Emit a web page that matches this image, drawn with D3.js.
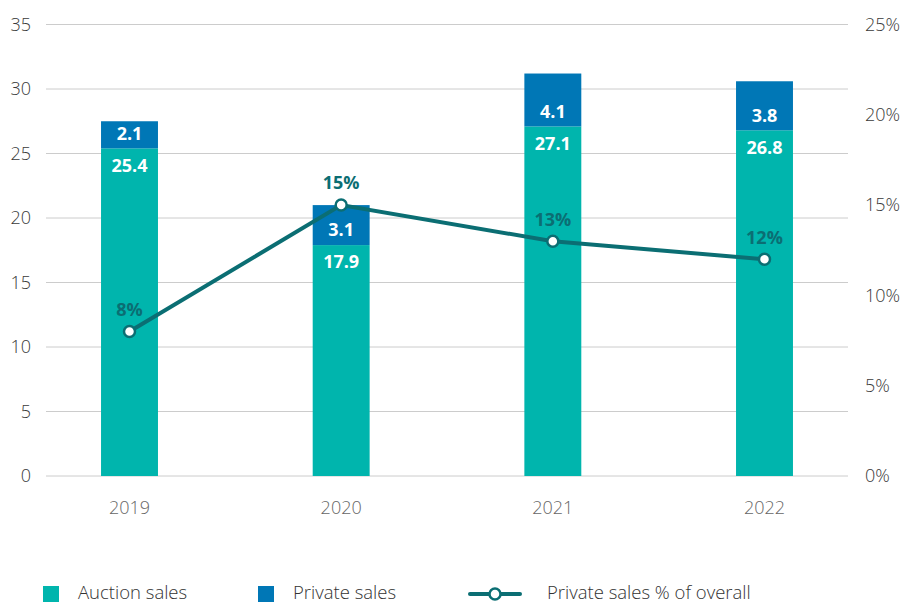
<!DOCTYPE html>
<html lang="en">
<head>
    <meta charset="UTF-8">
    <title>Auction vs private sales</title>
    <script src="https://d3js.org/d3.v7.min.js"></script>
    <style>
        body { margin: 0; background: #fff; font-family: "Open Sans", "Noto Sans", Arial, sans-serif; }
        .tick-label { font-size: 18px; fill: #3a3a3a; font-weight: 300; }
        .year-label { font-size: 18px; fill: #666; font-weight: 300; }
        .bar-label { font-size: 18px; fill: #fff; font-weight: 700; }
        .pct-label { font-size: 18px; fill: #0b6e73; font-weight: 700; }
        .legend-text { font-size: 18.5px; fill: #333; font-weight: 300; }
    </style>
</head>
<body>
    <div id="chart"></div>
    <script>
        const years = ["2019", "2020", "2021", "2022"];
        const auctionSales = [25.4, 17.9, 27.1, 26.8];
        const privateSales = [2.1, 3.1, 4.1, 3.8];
        const privateShare = [8, 15, 13, 12];
        const leftTicks = [0, 5, 10, 15, 20, 25, 30, 35];
        const rightTicks = [0, 5, 10, 15, 20, 25];

        const auctionColor = "#00b5ad";
        const privateColor = "#0077b6";
        const lineColor = "#0b6e73";

        const width = 916, height = 603;
        const plot = {left: 46, right: 848, top: 24.5, bottom: 476};

        const svg = d3.select("#chart")
            .append("svg")
            .attr("width", width)
            .attr("height", height);

        const x = d3.scaleBand()
            .domain(years)
            .range([plot.left, plot.right])
            .paddingInner(0.731)
            .paddingOuter(0.26);

        const y = d3.scaleLinear().domain([0, 35]).range([plot.bottom, plot.top]);
        const yPct = d3.scaleLinear().domain([0, 25]).range([plot.bottom, plot.top]);

        // gridlines
        svg.append("g")
            .selectAll("line")
            .data(leftTicks)
            .enter()
            .append("line")
            .attr("x1", plot.left)
            .attr("x2", plot.right)
            .attr("y1", d => y(d))
            .attr("y2", d => y(d))
            .attr("stroke", "#cccccc")
            .attr("stroke-width", 1);

        // left axis
        svg.append("g")
            .selectAll("text")
            .data(leftTicks)
            .enter()
            .append("text")
            .attr("class", "tick-label")
            .attr("x", 31)
            .attr("y", d => y(d))
            .attr("dy", "0.35em")
            .attr("text-anchor", "end")
            .text(d => d);

        // right axis
        svg.append("g")
            .selectAll("text")
            .data(rightTicks)
            .enter()
            .append("text")
            .attr("class", "tick-label")
            .attr("x", 865)
            .attr("y", d => yPct(d))
            .attr("dy", "0.35em")
            .text(d => d + "%");

        // year labels
        svg.append("g")
            .selectAll("text")
            .data(years)
            .enter()
            .append("text")
            .attr("class", "year-label")
            .attr("x", d => x(d) + x.bandwidth() / 2)
            .attr("y", 508)
            .attr("dy", "0.35em")
            .attr("text-anchor", "middle")
            .text(d => d);

        const data = years.map((yr, i) => ({
            year: yr,
            auction: auctionSales[i],
            priv: privateSales[i],
            share: privateShare[i]
        }));

        // stacked bars
        svg.append("g")
            .selectAll("rect")
            .data(data)
            .enter()
            .append("rect")
            .attr("x", d => x(d.year))
            .attr("width", x.bandwidth())
            .attr("y", d => y(d.auction))
            .attr("height", d => y(0) - y(d.auction))
            .attr("fill", auctionColor);

        svg.append("g")
            .selectAll("rect")
            .data(data)
            .enter()
            .append("rect")
            .attr("x", d => x(d.year))
            .attr("width", x.bandwidth())
            .attr("y", d => y(d.auction + d.priv))
            .attr("height", d => y(d.auction) - y(d.auction + d.priv))
            .attr("fill", privateColor);

        // bar labels
        svg.append("g")
            .selectAll("text")
            .data(data)
            .enter()
            .append("text")
            .attr("class", "bar-label")
            .attr("x", d => x(d.year) + x.bandwidth() / 2)
            .attr("y", d => y(d.auction) + 17)
            .attr("dy", "0.35em")
            .attr("text-anchor", "middle")
            .text(d => d.auction.toFixed(1));

        svg.append("g")
            .selectAll("text")
            .data(data)
            .enter()
            .append("text")
            .attr("class", "bar-label")
            .attr("x", d => x(d.year) + x.bandwidth() / 2)
            .attr("y", d => y(d.auction) - 15)
            .attr("dy", "0.35em")
            .attr("text-anchor", "middle")
            .text(d => d.priv.toFixed(1));

        // line
        const line = d3.line()
            .x(d => x(d.year) + x.bandwidth() / 2)
            .y(d => yPct(d.share));

        svg.append("path")
            .datum(data)
            .attr("d", line)
            .attr("fill", "none")
            .attr("stroke", lineColor)
            .attr("stroke-width", 4);

        svg.append("g")
            .selectAll("circle")
            .data(data)
            .enter()
            .append("circle")
            .attr("cx", d => x(d.year) + x.bandwidth() / 2)
            .attr("cy", d => yPct(d.share))
            .attr("r", 5.5)
            .attr("fill", "#fff")
            .attr("stroke", lineColor)
            .attr("stroke-width", 2.5);

        svg.append("g")
            .selectAll("text")
            .data(data)
            .enter()
            .append("text")
            .attr("class", "pct-label")
            .attr("x", d => x(d.year) + x.bandwidth() / 2)
            .attr("y", d => yPct(d.share) - 22)
            .attr("dy", "0.35em")
            .attr("text-anchor", "middle")
            .text(d => d.share + "%");

        // legend
        const legend = svg.append("g");
        const legendY = 593;

        legend.append("rect")
            .attr("x", 43).attr("y", 586)
            .attr("width", 16).attr("height", 16)
            .attr("fill", auctionColor);
        legend.append("text")
            .attr("class", "legend-text")
            .attr("x", 78).attr("y", legendY)
            .attr("dy", "0.35em")
            .text("Auction sales");

        legend.append("rect")
            .attr("x", 258).attr("y", 586)
            .attr("width", 16).attr("height", 16)
            .attr("fill", privateColor);
        legend.append("text")
            .attr("class", "legend-text")
            .attr("x", 293).attr("y", legendY)
            .attr("dy", "0.35em")
            .text("Private sales");

        legend.append("line")
            .attr("x1", 470).attr("x2", 520)
            .attr("y1", 594).attr("y2", 594)
            .attr("stroke", lineColor)
            .attr("stroke-width", 4)
            .attr("stroke-linecap", "round");
        legend.append("circle")
            .attr("cx", 495).attr("cy", 594)
            .attr("r", 5.5)
            .attr("fill", "#fff")
            .attr("stroke", lineColor)
            .attr("stroke-width", 2.5);
        legend.append("text")
            .attr("class", "legend-text")
            .attr("x", 547).attr("y", legendY)
            .attr("dy", "0.35em")
            .text("Private sales % of overall");
    </script>
</body>
</html>
